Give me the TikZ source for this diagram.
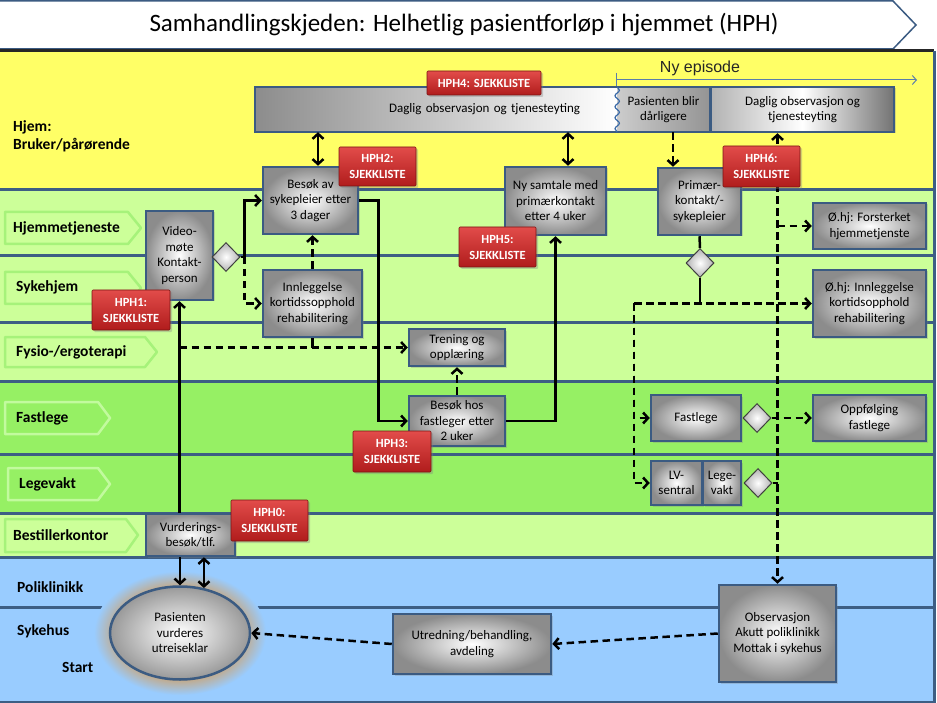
\documentclass[tikz,border=0pt]{standalone}
\usepackage{fontspec}
\setmainfont{Carlito}
\newfontfamily\arialf{Liberation Sans}
\usetikzlibrary{arrows.meta,shapes.geometric,shadows,decorations.pathmorphing,calc}
\definecolor{yel}{HTML}{FFFF66}
\definecolor{lgr}{HTML}{CCFF99}
\definecolor{mgr}{HTML}{96F064}
\definecolor{lbl}{HTML}{99CCFF}
\definecolor{sep}{HTML}{3D5E84}
\definecolor{boxb}{HTML}{3B5B82}
\definecolor{chevba}{HTML}{A6F27A}
\definecolor{chevbb}{HTML}{C2FA9E}
\definecolor{redt}{HTML}{E24C4A}
\definecolor{redb}{HTML}{B01C1C}
\definecolor{glowc}{HTML}{C8A57A}
\definecolor{epi}{HTML}{5A7DAA}
\definecolor{wavec}{HTML}{3A6AA8}
\pgfdeclareradialshading{glowshade}{\pgfpoint{0bp}{0bp}}{color(0bp)=(glowc); color(18bp)=(glowc); color(25bp)=(lbl); color(50bp)=(lbl)}
\tikzset{
  sepline/.style={draw=sep, line width=3pt},
  chevA/.style={fill=lgr, draw=chevba, line width=2.5pt, line join=round},
  chevB/.style={fill=mgr, draw=chevbb, line width=2.5pt, line join=round},
  lanelab/.style={font=\bfseries\fontsize{15.5}{18}\selectfont, anchor=west, inner sep=0pt, align=left},
  box/.style={draw=boxb, line width=2.5pt, inner color=white, outer color=black!45,
    align=center, font=\fontsize{13}{15.5}\selectfont, inner sep=1pt,
    drop shadow={shadow xshift=1.5pt, shadow yshift=-1.5pt, opacity=0.3}},
  redlab/.style={draw=redb!70!black, line width=0.6pt, top color=redt, bottom color=redb,
    text=white, font=\bfseries\fontsize{12.5}{16}\selectfont, align=center, inner sep=1pt,
    rounded corners=1pt, drop shadow={shadow xshift=2pt, shadow yshift=-2pt, opacity=0.35}},
  conn/.style={line width=2.5pt, draw=black, arrows={-}},
  tip/.style={-{Straight Barb[length=5pt,width=11pt]}},
  tips/.style={{Straight Barb[length=5pt,width=11pt]}-{Straight Barb[length=5pt,width=11pt]}},
  dconn/.style={conn, dash pattern=on 7.5pt off 4.5pt},
  dia/.style={diamond, draw=black!75, line width=1pt, inner color=white, outer color=black!30,
    minimum width=28pt, minimum height=29pt, inner sep=0pt},
}
\begin{document}
\begin{tikzpicture}[x=1pt,y=-1pt]
\useasboundingbox (0,0) rectangle (937,703);
\fill[white] (0,0) rectangle (937,703);
% header
\draw[fill=white, draw=boxb, line width=1.5pt] (0,1) -- (893,1) -- (916,25) -- (893,49) -- (0,49);
\node[font=\fontsize{25}{28}\selectfont] (title) at (464,25) {Samhandlingskjeden: Helhetlig pasientforløp i hjemmet (HPH)};
% lanes
\fill[yel] (0,51) rectangle (934,190);
\fill[lgr] (0,190) rectangle (934,381);
\fill[mgr] (0,381) rectangle (934,513);
\fill[lgr] (0,513) rectangle (934,557);
\fill[lbl] (0,557) rectangle (934,702);
\draw[draw=black!85, line width=3pt] (0,51) -- (934,51);
\foreach \yy in {190,256,323,381,454,513,557,607,702} {\draw[sepline] (0,\yy) -- (934,\yy);}
\draw[sepline] (934,51) -- (934,703);
% lane label chevrons
\draw[chevA] (5,212) -- (128,212) -- (141,228) -- (128,244) -- (5,244) -- cycle;
\draw[chevA] (5,272) -- (128,272) -- (141,288) -- (128,304) -- (5,304) -- cycle;
\draw[chevA] (5,337) -- (145,337) -- (157,352) -- (145,367) -- (5,367) -- cycle;
\draw[chevB] (5,402) -- (98,402) -- (110,418) -- (98,434) -- (5,434) -- cycle;
\draw[chevB] (8,468) -- (98,468) -- (110,484) -- (98,500) -- (8,500) -- cycle;
\draw[chevA] (5,519) -- (126,519) -- (138,535) -- (126,552) -- (5,552) -- cycle;
% lane labels
\node[lanelab] (lHjem) at (13,136) {Hjem:\\Bruker/pårørende};
\node[lanelab] (lHjt) at (13,228) {Hjemmetjeneste};
\node[lanelab] (lSyk) at (16,287) {Sykehjem};
\node[lanelab] (lFys) at (16,352) {Fysio-/ergoterapi};
\node[lanelab] (lFast) at (16,418) {Fastlege};
\node[lanelab] (lLege) at (19,484) {Legevakt};
\node[lanelab] (lBest) at (13,535) {Bestillerkontor};
\node[lanelab] (lPoli) at (17,587) {Poliklinikk};
\node[lanelab] (lSh) at (17,631) {Sykehus};
\node[lanelab] (lStart) at (62,667) {Start};
% Ny episode
\draw[draw=epi, line width=1pt] (616,73) -- (616,86);
\draw[draw=epi, line width=1pt, -{Straight Barb[length=4pt,width=9pt]}] (616,80) -- (917,80);
\node[font=\arialf\fontsize{16}{19}\selectfont, text=black!85] (epis) at (700,68) {Ny episode};
% glow and ellipse
\shade[shading=glowshade] (180,633) ellipse [x radius=86, y radius=62];
\node[ellipse, draw=boxb, line width=2.5pt, inner color=white, outer color=black!40,
  minimum width=140pt, minimum height=93pt, font=\fontsize{13}{15.5}\selectfont, align=center, inner sep=0pt] (ell) at (180,633) {Pasienten\\vurderes\\utreiseklar};
% top bars
\node[inner sep=0pt, left color=black!45, right color=white, minimum width=362pt, minimum height=45pt,
  inner xsep=37pt, text width=288pt, align=right, font=\fontsize{13}{15.5}\selectfont] (bar1) at (436,109.5) {Daglig observasjon og tjenesteyting};
\node[inner sep=0pt, left color=black!20, right color=black!42, minimum width=93pt, minimum height=45pt,
  align=center, font=\fontsize{13}{15.5}\selectfont] (pas) at (663.5,109.5) {Pasienten blir\\dårligere};
\draw[draw=boxb, line width=2.5pt] (bar1.north west) -- (pas.north east) -- (pas.south east) -- (bar1.south west) -- cycle;
\draw[draw=wavec, line width=1.2pt, decorate, decoration={snake, segment length=11pt, amplitude=2.2pt}] (bar1.north east) -- (bar1.south east);
\node[box, left color=black!30, right color=black!55, middle color=white, minimum width=183pt, minimum height=45pt] (bar2) at (802.5,109.5) {Daglig observasjon og\\tjenesteyting};
% boxes
\node[box, minimum width=95pt, minimum height=67pt] (besokSyk) at (310.5,200.5) {Besøk av\\sykepleier etter\\3 dager};
\node[box, minimum width=67pt, minimum height=89pt] (video) at (179.5,255.5) {Video-\\møte\\Kontakt-\\person};
\node[box, minimum width=99pt, minimum height=67pt] (innl) at (312.5,303.5) {Innleggelse\\kortidssopphold\\rehabilitering};
\node[box, minimum width=96pt, minimum height=37pt] (trening) at (457,347.5) {Trening og\\opplæring};
\node[box, minimum width=96pt, minimum height=50pt] (besokFast) at (457,421) {Besøk hos\\fastleger etter\\2 uker};
\node[box, minimum width=101pt, minimum height=68pt] (nySamtale) at (555.5,201) {Ny samtale med\\primærkontakt\\etter 4 uker};
\node[box, minimum width=83pt, minimum height=67pt] (primaer) at (699.5,201.5) {Primær-\\kontakt/-\\sykepleier};
\node[box, minimum width=113pt, minimum height=46pt] (forst) at (869.5,226) {Ø.hj: Forsterket\\hjemmetjenste};
\node[box, minimum width=113pt, minimum height=67pt] (ohjInnl) at (869.5,303.5) {Ø.hj: Innleggelse\\kortidsopphold\\rehabilitering};
\node[box, minimum width=90pt, minimum height=46pt] (fastBox) at (696,418) {Fastlege};
\node[box, minimum width=51pt, minimum height=44pt] (lv) at (676.5,483) {LV-\\sentral};
\node[box, minimum width=38pt, minimum height=44pt] (legevakt) at (722,483) {Lege-\\vakt};
\node[box, minimum width=113pt, minimum height=46pt] (oppf) at (869.5,418) {Oppfølging\\fastlege};
\node[box, minimum width=89pt, minimum height=42pt] (vurd) at (190.5,535) {Vurderings-\\besøk/tlf.};
\node[box, minimum width=158pt, minimum height=60pt] (utred) at (472,644) {Utredning/behandling,\\avdeling};
\node[box, minimum width=117pt, minimum height=97pt] (obs) at (777.5,633.5) {Observasjon\\Akutt poliklinikk\\Mottak i sykehus};
% diamonds
\node[dia] (videoD) at (226,257) {};
\node[dia] (primD) at (700,263) {};
\node[dia] (fastD) at (757,418) {};
\node[dia] (legeD) at (758,483) {};
% junction coordinates
\coordinate (vj) at ($(videoD.east)+(4,0)$);
\coordinate (split) at (634,303.5);
% connectors
\draw[conn, tips] (bar1.south -| 318,0) -- (besokSyk.north -| 318,0);
\draw[conn, tips] (bar1.south -| 568,0) -- (nySamtale.north -| 568,0);
\draw[conn, tip] (videoD.east) -- (vj) |- (besokSyk.west);
\draw[dconn, tip] (vj) |- (innl.west);
\draw[dconn, tip] (innl.north) -- (innl.north |- besokSyk.south);
\draw[conn, tip] (besokSyk.east) -- ++(19,0) |- (besokFast.west);
\draw[conn, tip] (besokFast.east) -| (nySamtale.south);
\draw[dconn, tip] (besokFast.north) -- (trening.south);
\draw[conn, tip] (vurd.north -| video.south) -- (video.south);
\draw[dconn, tip] (video.south |- trening.west) -- (trening.west);
\draw[conn] (innl.south) -- (innl.south |- trening.west);
\draw[conn, tip] (vurd.south -| ell.north) -- (ell.north);
\draw[conn, tips] (vurd.south -| ell.62) -- (ell.62);
\draw[dconn, tip] (utred.west) -- (ell.east);
\draw[dconn, tip] (obs.west) -- (utred.east);
\draw[dconn, tip] (pas.south -| 673,0) -- (primaer.north -| 673,0);
\draw[conn] (primaer.south) -- (primD.north);
\draw[conn] (primD.south) -- (primD.south |- split);
\draw[dconn, tip] (split) -- (ohjInnl.west);
\draw[dconn, tip] (split) |- (fastBox.west);
\draw[dconn, tip] (split) |- (lv.west);
\draw[dconn, tips] (obs.north |- bar2.south) -- (obs.north);
\draw[dconn, tip] (forst.west -| obs.north) -- (forst.west);
\draw[dconn, tip] (fastD.east) -- (oppf.west);
\draw[conn] (legeD.east) -- (legeD.east -| obs.north);
% red labels
\node[redlab, minimum width=114pt, minimum height=24pt] (hph4) at (484,83) {HPH4: SJEKKLISTE};
\node[redlab, minimum width=77pt, minimum height=39pt] (hph2) at (377.5,166.5) {HPH2:\\SJEKKLISTE};
\node[redlab, minimum width=78pt, minimum height=40pt] (hph1) at (131,310) {HPH1:\\SJEKKLISTE};
\node[redlab, minimum width=77pt, minimum height=40pt] (hph5) at (497.5,247) {HPH5:\\SJEKKLISTE};
\node[redlab, minimum width=78pt, minimum height=41pt] (hph3) at (392,451.5) {HPH3:\\SJEKKLISTE};
\node[redlab, minimum width=77pt, minimum height=41pt] (hph6) at (761.5,166.5) {HPH6:\\SJEKKLISTE};
\node[redlab, minimum width=77pt, minimum height=41pt] (hph0) at (269.5,520.5) {HPH0:\\SJEKKLISTE};
\end{tikzpicture}
\end{document}
